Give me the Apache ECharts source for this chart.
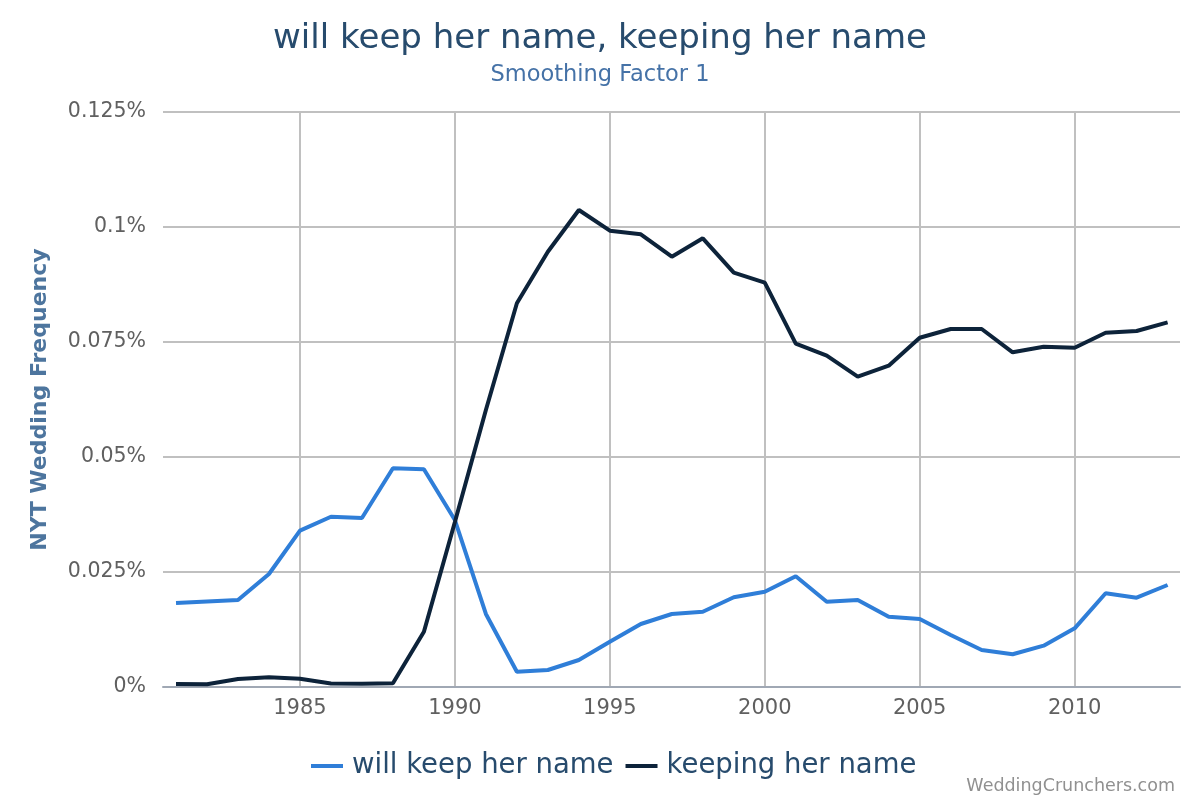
<!DOCTYPE html>
<html>
<head>
<meta charset="utf-8">
<script src="https://cdn.jsdelivr.net/npm/echarts@6/dist/echarts.min.js"></script>
<style>html,body{margin:0;padding:0;background:#fff}#chart{width:1200px;height:800px}</style>
</head>
<body>
<div id="chart"></div>
<script>
const years = [1981,1982,1983,1984,1985,1986,1987,1988,1989,1990,1991,1992,1993,1994,1995,1996,1997,1998,1999,2000,2001,2002,2003,2004,2005,2006,2007,2008,2009,2010,2011,2012,2013];
const willKeep = [0.01826,0.01859,0.01891,0.02457,0.03398,0.03702,0.03674,0.04754,0.04733,0.03630,0.01587,0.00333,0.00370,0.00587,0.00985,0.01370,0.01587,0.01637,0.01950,0.02072,0.02407,0.01854,0.01891,0.01528,0.01478,0.01130,0.00804,0.00711,0.00898,0.01276,0.02037,0.01941,0.02217];
const keeping = [0.00065,0.00059,0.00174,0.00211,0.00180,0.00076,0.00072,0.00080,0.01202,0.03587,0.06022,0.08341,0.09463,0.10370,0.09920,0.09841,0.09354,0.09754,0.09007,0.08789,0.07463,0.07202,0.06746,0.06985,0.07593,0.07783,0.07783,0.07276,0.07398,0.07376,0.07702,0.07739,0.07928];
const xTicks = [1985,1990,1995,2000,2005,2010];
const seriesNames = ['will keep her name','keeping her name'];

const FONT = 'DejaVu Sans';
const chart = echarts.init(document.getElementById('chart'), null, {renderer:'canvas'});
chart.setOption({
  animation: false,
  color: ['#2f7ed8','#0d233a'],
  title: [
    {text: 'will keep her name, keeping her name', left: 'center', top: 17,
     textStyle: {fontFamily: FONT, fontSize: 34, fontWeight: 'normal', color: '#274b6d'}},
    {text: 'Smoothing Factor 1', left: 'center', top: 59,
     textStyle: {fontFamily: FONT, fontSize: 22.5, fontWeight: 'normal', color: '#4572a7'}},
    {text: 'WeddingCrunchers.com', right: 20, top: 772,
     textStyle: {fontFamily: FONT, fontSize: 17.5, fontWeight: 'normal', color: '#909090'}}
  ],
  legend: {
    top: 747, left: 306,
    icon: 'rect', itemWidth: 32, itemHeight: 4, itemGap: 12,
    textStyle: {fontFamily: FONT, fontSize: 27.5, color: '#274b6d', padding: [0,0,0,4]},
    data: seriesNames
  },
  grid: {left: 163, right: 20, top: 112, bottom: 113, containLabel: false},
  xAxis: {
    type: 'value', min: 1980.58, max: 2013.4,
    axisLine: {show: true, onZero: false, lineStyle: {color: '#a0a8b4', width: 2}},
    axisTick: {show: false, customValues: xTicks},
    axisLabel: {customValues: xTicks, fontFamily: FONT, fontSize: 21, color: '#606060', margin: 11,
      formatter: v => String(v)},
    splitLine: {show: true, lineStyle: {color: '#c0c0c0', width: 2}}
  },
  yAxis: {
    type: 'value', min: 0, max: 0.125, interval: 0.025,
    name: 'NYT Wedding Frequency', nameLocation: 'middle', nameGap: 112,
    nameTextStyle: {fontFamily: FONT, fontSize: 22, fontWeight: 'bold', color: '#4d759e'},
    axisLine: {show: false},
    axisTick: {show: false},
    axisLabel: {fontFamily: FONT, fontSize: 20.5, color: '#606060', margin: 17,
      formatter: v => parseFloat(v.toFixed(3)) + '%'},
    splitLine: {show: true, lineStyle: {color: '#c0c0c0', width: 2}}
  },
  series: [
    {name: seriesNames[0], type: 'line', data: years.map((y,i)=>[y, willKeep[i]]),
     showSymbol: false, symbol: 'none', lineStyle: {width: 4}, z: 3},
    {name: seriesNames[1], type: 'line', data: years.map((y,i)=>[y, keeping[i]]),
     showSymbol: false, symbol: 'none', lineStyle: {width: 4}, z: 4}
  ]
});
</script>
</body>
</html>
